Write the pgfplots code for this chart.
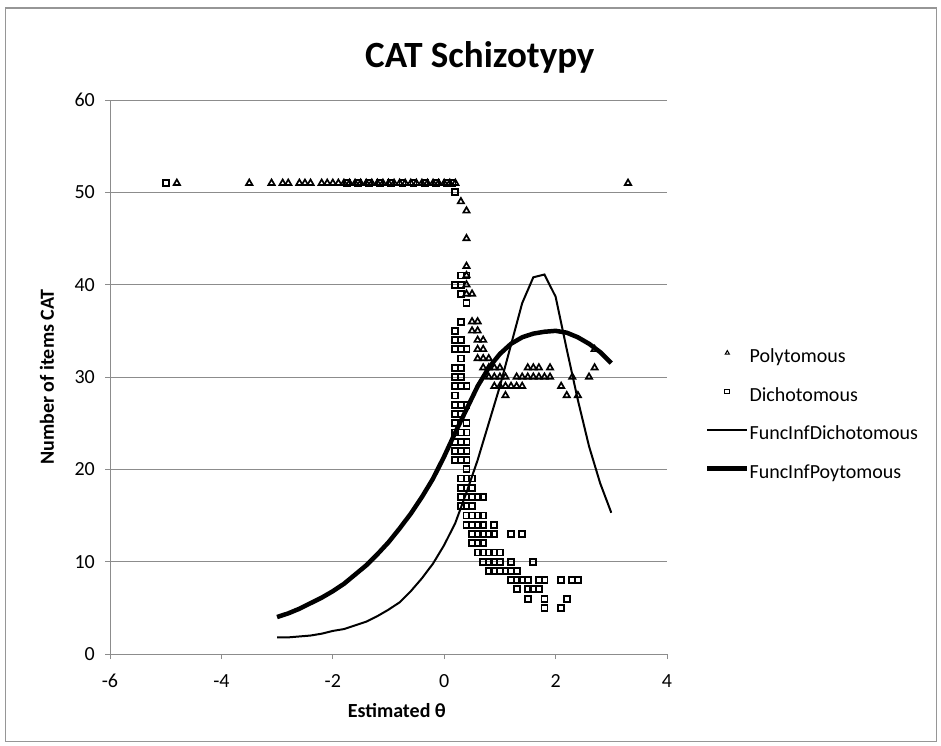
\documentclass[border=0pt]{standalone}
\usepackage{fontspec}
\setmainfont{Carlito}
\usepackage{pgfplots}
\pgfplotsset{compat=1.18}
\definecolor{gridgray}{RGB}{140,140,140}
\definecolor{framegray}{RGB}{150,150,150}
\begin{document}
\begin{tikzpicture}
\path[use as bounding box] (0pt,0pt) rectangle (941pt,745pt);
\fill[white] (0pt,0pt) rectangle (941pt,745pt);
\draw[framegray, line width=1.5pt] (5.5pt,3.5pt) rectangle (936.5pt,737pt);
\begin{axis}[
  at={(110pt,91pt)}, anchor=south west,
  scale only axis, width=557pt, height=554pt,
  xmin=-6, xmax=4, ymin=0, ymax=60,
  xtick={-6,-4,...,4}, ytick={0,10,...,60},
  axis x line*=bottom, axis y line*=left,
  axis line style={gridgray, line width=1pt},
  tick align=outside, major tick length=5pt,
  tick style={gridgray, line width=1pt},
  ymajorgrids, major grid style={gridgray, line width=1pt},
  /pgf/number format/assume math mode=true,
  tick label style={font=\fontsize{20}{24}\selectfont},
  yticklabel style={anchor=east, inner sep=0pt, xshift=-10pt},
  xticklabel style={anchor=north, inner sep=0pt, yshift=-15pt},
  title={CAT Schizotypy},
  title style={at={(axis description cs:0.664,1)}, anchor=base, yshift=27pt, font=\bfseries\fontsize{37}{44}\selectfont},
  xlabel={Estimated θ},
  xlabel style={at={(axis description cs:0.515,0)}, anchor=base, yshift=-63pt, font=\bfseries\fontsize{20}{24}\selectfont},
  ylabel={Number of items CAT},
  ylabel style={at={(axis description cs:-0.113,0.5)}, anchor=center, font=\bfseries\fontsize{20}{24}\selectfont},
  legend image code/.code={\draw[mark repeat=2,mark phase=2,#1,mark size=2.4pt,mark options={line width=1pt}] plot coordinates {(0pt,5.5pt) (20pt,5.5pt) (40pt,5.5pt)};},
  legend cell align=left,
  legend style={at={(axis description cs:1.068,0.551)}, anchor=north west, draw=none, fill=none, inner sep=0pt,
    font=\fontsize{20}{24}\selectfont, row sep=19.5pt,
    nodes={inner sep=0pt, text height=14pt, text depth=5pt},
    /tikz/every even column/.append style={column sep=8pt}},
]
% Dichotomous points hidden under the top row (drawn first)
\addplot[only marks, mark=square, mark size=3pt, mark options={black, line width=1.8pt, fill=white}, forget plot] table {
x y
-1.75 51
-1.55 51
-1.35 51
-1.15 51
-0.95 51
-0.75 51
-0.55 51
-0.35 51
-0.15 51
0.05 51
0.15 51
};
% Polytomous
\addplot[only marks, mark=triangle, mark size=3.6pt, mark options={black, line width=1.7pt, fill=white}] table {
x y
-4.8 51
-3.5 51
-3.1 51
-2.9 51
-2.8 51
-2.6 51
-2.5 51
-2.4 51
-2.2 51
-2.1 51
-2.0 51
-1.9 51
-1.8 51
-1.7 51
-1.6 51
-1.5 51
-1.4 51
-1.3 51
-1.2 51
-1.1 51
-1.0 51
-0.9 51
-0.8 51
-0.7 51
-0.6 51
-0.5 51
-0.4 51
-0.3 51
-0.2 51
-0.1 51
0.0 51
0.1 51
0.2 51
3.3 51
0.3 49
0.4 48
0.4 45
0.4 42
0.4 41
0.4 40
0.4 39
0.5 39
0.5 36
0.6 36
0.5 35
0.6 35
0.6 34
0.7 34
0.6 33
0.7 33
2.7 33
0.6 32
0.7 32
0.8 32
0.7 31
0.8 31
0.9 31
1.0 31
1.5 31
1.6 31
1.7 31
1.9 31
2.7 31
0.8 30
0.9 30
1.0 30
1.1 30
1.3 30
1.4 30
1.5 30
1.6 30
1.7 30
1.8 30
1.9 30
2.3 30
2.6 30
0.9 29
1.0 29
1.1 29
1.2 29
1.3 29
1.4 29
2.1 29
1.1 28
2.2 28
2.4 28
};
\addlegendentry{Polytomous}
% Dichotomous
\addplot[only marks, mark=square, mark size=3pt, mark options={black, line width=1.8pt, fill=white}] table {
x y
-5.0 51
0.2 50
0.3 41
0.4 41
0.2 40
0.3 40
0.3 39
0.4 38
0.3 36
0.2 35
0.2 34
0.3 34
0.2 33
0.3 33
0.4 33
0.3 32
0.2 31
0.3 31
0.2 30
0.3 30
0.2 29
0.3 29
0.4 29
0.2 28
0.2 27
0.3 27
0.4 27
0.2 26
0.3 26
0.2 25
0.4 25
0.2 24
0.3 24
0.4 24
0.2 23
0.3 23
0.4 23
0.2 22
0.3 22
0.4 22
0.2 21
0.3 21
0.4 21
0.4 20
0.3 19
0.4 19
0.5 19
0.3 18
0.4 18
0.5 18
0.3 17
0.4 17
0.5 17
0.6 17
0.7 17
0.3 16
0.4 16
0.5 16
0.4 15
0.5 15
0.6 15
0.7 15
0.4 14
0.5 14
0.6 14
0.7 14
0.9 14
0.5 13
0.6 13
0.7 13
0.8 13
0.9 13
1.2 13
1.4 13
0.5 12
0.6 12
0.7 12
0.6 11
0.7 11
0.8 11
0.9 11
1.0 11
0.7 10
0.8 10
0.9 10
1.0 10
1.2 10
1.6 10
0.8 9
0.9 9
1.0 9
1.1 9
1.2 9
1.3 9
1.2 8
1.3 8
1.4 8
1.5 8
1.7 8
1.8 8
2.1 8
2.3 8
2.4 8
1.3 7
1.5 7
1.6 7
1.7 7
1.5 6
1.8 6
2.2 6
1.8 5
2.1 5
};
\addlegendentry{Dichotomous}
% FuncInfDichotomous
\addplot[black, line width=2pt, no marks] table {
x y
-3.0 1.8
-2.8 1.8
-2.6 1.9
-2.4 2.0
-2.2 2.2
-2.0 2.5
-1.8 2.7
-1.6 3.1
-1.4 3.5
-1.2 4.1
-1.0 4.8
-0.8 5.6
-0.6 6.8
-0.4 8.2
-0.2 9.8
0.0 11.8
0.2 14.2
0.4 17.5
0.6 21.0
0.8 25.0
1.0 29.0
1.2 33.5
1.4 38.0
1.6 40.8
1.8 41.1
2.0 38.7
2.2 33.0
2.4 27.5
2.6 22.5
2.8 18.5
3.0 15.3
};
\addlegendentry{FuncInfDichotomous}
% FuncInfPoytomous
\addplot[black, line width=4.5pt, no marks, line join=round] table {
x y
-3.0 4.0
-2.8 4.4
-2.6 4.9
-2.4 5.5
-2.2 6.1
-2.0 6.8
-1.8 7.6
-1.6 8.6
-1.4 9.6
-1.2 10.8
-1.0 12.1
-0.8 13.6
-0.6 15.2
-0.4 17.0
-0.2 19.0
0.0 21.4
0.2 24.0
0.4 26.5
0.6 29.0
0.8 31.0
1.0 32.5
1.2 33.6
1.4 34.3
1.6 34.7
1.8 34.9
2.0 35.0
2.2 34.8
2.4 34.3
2.6 33.6
2.8 32.7
3.0 31.5
};
\addlegendentry{FuncInfPoytomous}
\end{axis}
\end{tikzpicture}
\end{document}
